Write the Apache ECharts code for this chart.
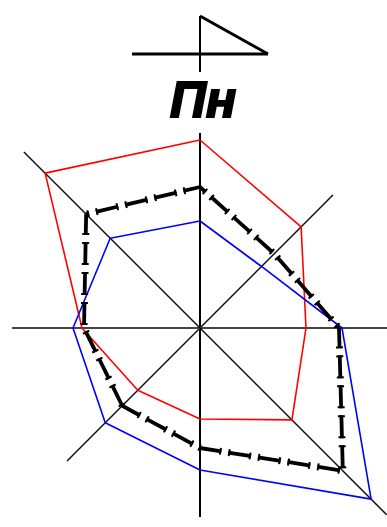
<!DOCTYPE html>
<html>
<head>
<meta charset="utf-8">
<style>
  html, body { margin: 0; padding: 0; background: #fff; }
  #chart { width: 387px; height: 527px; }
</style>
<script src="https://cdn.jsdelivr.net/npm/echarts@6/dist/echarts.min.js"></script>
</head>
<body>
<div id="chart"></div>
<script>
// directions, clockwise from the top
const angles = [0, 45, 90, 135, 180, 225, 270, 315];
const spokeLengths = [195, 188, 188, 264, 189, 188, 188, 249];
const redValues = [188, 143, 106, 130, 91, 88, 118, 219];
const blueValues = [107, 87, 142, 242, 142, 134, 127, 127];
const blackValues = [141, 105, 139, 202, 120, 110, 116, 161];
// where the dash pattern sits on each edge of the black outline
const blackDashOffsets = [15.4, 25.7, 2.7, 27, 21.8, 0, 27, 20];

// small triangle sign above the title
const signBase = [[-68, 0], [68, 0]];
const signSlope = [[0, 38], [68, 0]];
const signStem = [[0, 38], [0, -18]];

function ring(values) {
  const points = values.map((v, i) => [v, angles[i]]);
  points.push(points[0]);
  return points;
}

function polarLine(data, color, width, dash, offset) {
  return {
    type: 'line',
    coordinateSystem: 'polar',
    data: data,
    showSymbol: false,
    silent: true,
    clip: false,
    lineStyle: { color: color, width: width, type: dash || 'solid', dashOffset: offset || 0, cap: 'butt' }
  };
}

function signLine(data, width) {
  return {
    type: 'line',
    xAxisIndex: 0,
    yAxisIndex: 0,
    data: data,
    showSymbol: false,
    silent: true,
    clip: false,
    lineStyle: { color: '#000', width: width }
  };
}

const series = [];
angles.forEach((a, i) => {
  // vertical is the strongest, the horizontal comes out grey in the picture
  let color = '#111', width = 1.5;
  if (a === 0 || a === 180) { color = '#000'; width = 2; }
  if (a === 90 || a === 270) { color = '#444'; width = 2; }
  series.push(polarLine([[0, a], [spokeLengths[i], a]], color, width));
});
series.push(polarLine(ring(redValues), '#ff0000', 1.6));
series.push(polarLine(ring(blueValues), '#0000ff', 1.6));

const blackRing = ring(blackValues);
angles.forEach((a, i) => {
  const edge = [blackRing[i], blackRing[i + 1]];
  series.push(polarLine(edge, '#000', 3.8, [23, 7], blackDashOffsets[i]));
  // end ticks of the dashes
  series.push(polarLine(edge, '#000', 7, [2, 19, 2, 7], blackDashOffsets[i]));
});

series.push(signLine(signBase, 3));
series.push(signLine(signSlope, 3));
series.push(signLine(signStem, 2));

const chart = echarts.init(document.getElementById('chart'), null, { renderer: 'canvas' });
chart.setOption({
  animation: false,
  backgroundColor: '#fff',
  title: {
    text: 'Пн',
    left: 198,
    top: 73,
    textAlign: 'center',
    textStyle: {
      fontFamily: 'Liberation Sans',
      fontSize: 50,
      fontWeight: 'bold',
      fontStyle: 'italic',
      color: '#000',
      textBorderColor: '#000',
      textBorderWidth: 2
    }
  },
  polar: { center: [200, 328], radius: 300 },
  angleAxis: { type: 'value', min: 0, max: 360, startAngle: 90, show: false },
  radiusAxis: { type: 'value', min: 0, max: 300, show: false },
  grid: { left: 132, top: 16, width: 136, height: 56 },
  xAxis: { type: 'value', min: -68, max: 68, show: false },
  yAxis: { type: 'value', min: -18, max: 38, show: false },
  series: series
});
</script>
</body>
</html>
